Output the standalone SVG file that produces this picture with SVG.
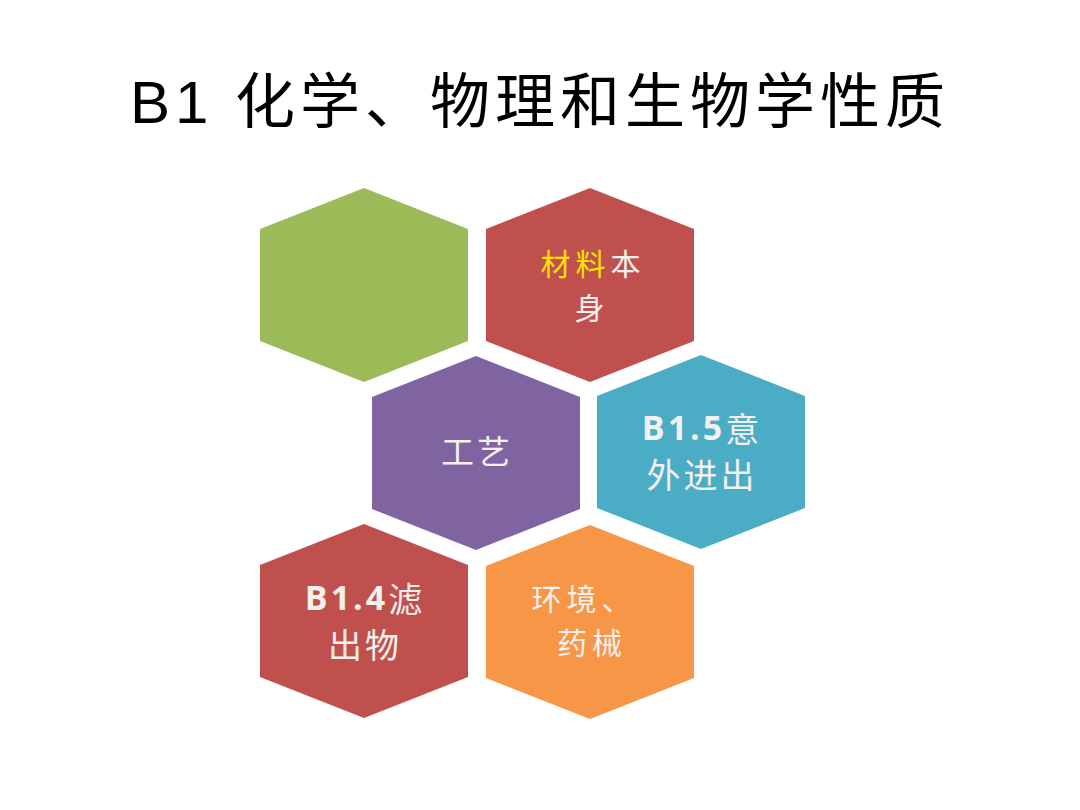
<svg xmlns="http://www.w3.org/2000/svg" width="1080" height="810" viewBox="0 0 1080 810">
<style>
.title{font-family:"Liberation Sans","Noto Sans CJK SC",sans-serif;font-size:60px;fill:#000;letter-spacing:5px}
.lbl{font-family:"Noto Sans CJK SC",sans-serif;font-size:33px;fill:#F4F0EE;text-anchor:middle;dominant-baseline:central;letter-spacing:3px}
.sm{font-size:30px;letter-spacing:5px}
.big{font-size:34px}
.b{font-family:"Open Sans","Noto Sans CJK SC",sans-serif;font-weight:bold}
</style>
<defs>
<polygon id="hex" points="0,-97 104,-56 104,56 0,97 -104,56 -104,-56"/>
</defs>
<rect width="1080" height="810" fill="#fff"/>
<text class="title" x="540" y="123" text-anchor="middle">B1 化学、物理和生物学性质</text>
<g id="connectors"/>
<g id="n-green"><use href="#hex" x="364" y="285" fill="#9BBB59"/></g>
<g id="n-material"><use href="#hex" x="590" y="285" fill="#C0504D"/>
<text class="lbl sm" x="593" y="262"><tspan fill="#FFE100">材料</tspan>本</text>
<text class="lbl sm" x="592" y="306">身</text></g>
<g id="n-process"><use href="#hex" x="476" y="453" fill="#8064A2"/>
<text class="lbl" x="477" y="450">工艺</text></g>
<g id="n-b15"><use href="#hex" x="701" y="452" fill="#4BACC6"/>
<text class="lbl big" x="702" y="427"><tspan class="b">B1.5</tspan>意</text>
<text class="lbl big" x="702" y="473">外进出</text></g>
<g id="n-b14"><use href="#hex" x="364" y="621" fill="#C0504D"/>
<text class="lbl big" x="365" y="597"><tspan class="b">B1.4</tspan>滤</text>
<text class="lbl big" x="365" y="643">出物</text></g>
<g id="n-env"><use href="#hex" x="590" y="622" fill="#F79646"/>
<text class="lbl sm" x="584" y="597">环境、</text>
<text class="lbl sm" x="592" y="641">药械</text></g>
</svg>
